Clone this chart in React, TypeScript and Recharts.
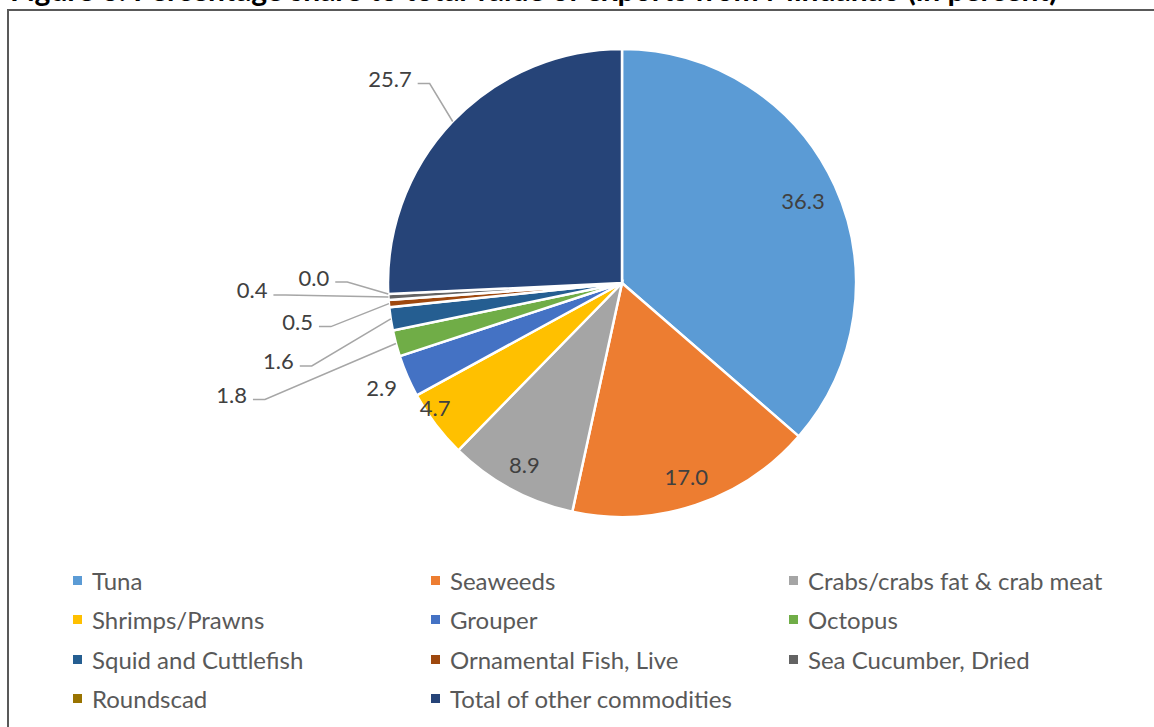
import { PieChart, Pie, Cell, Legend } from 'recharts';

const categories = [
  'Tuna',
  'Seaweeds',
  'Crabs/crabs fat & crab meat',
  'Shrimps/Prawns',
  'Grouper',
  'Octopus',
  'Squid and Cuttlefish',
  'Ornamental Fish, Live',
  'Sea Cucumber, Dried',
  'Roundscad',
  'Total of other commodities',
];
const shares = [36.3, 17.0, 8.9, 4.7, 2.9, 1.8, 1.6, 0.5, 0.4, 0.0, 25.7];
const colors = [
  '#5B9BD5', '#ED7D31', '#A5A5A5', '#FFC000', '#4472C4', '#70AD47',
  '#255E91', '#9E480E', '#636363', '#997300', '#264478',
];

const data = categories.map((name, i) => ({ name, value: shares[i] }));

// label placement: r = fraction of radius (da = angle nudge in degrees),
// dx/dy = elbow offset from the slice edge for labels with a leader line
const labelPlacement: any[] = [
  { r: 0.85 },
  { r: 0.87 },
  { r: 0.88 },
  { r: 0.96, da: -3.4 },
  { r: 1.12 },
  { dx: -131, dy: 56 },
  { dx: -79, dy: 47 },
  { dx: -58, dy: 23 },
  { dx: -103, dy: -2 },
  { dx: -41, dy: -12 },
  { dx: -23, dy: -38 },
];

const RAD = Math.PI / 180;
const FONT = 'Lato, "Open Sans", sans-serif';

const renderLabel = (props: any) => {
  const { cx, cy, midAngle, outerRadius, index, value } = props;
  const place = labelPlacement[index];
  const angle = midAngle + (place.da || 0);
  const cos = Math.cos(-angle * RAD);
  const sin = Math.sin(-angle * RAD);
  const text = Number(value).toFixed(1);
  if (place.r !== undefined) {
    const r = outerRadius * place.r;
    return (
      <text
        x={cx + r * cos}
        y={cy + r * sin}
        fill="#404040"
        fontSize={22}
        fontFamily={FONT}
        textAnchor="middle"
        dominantBaseline="central"
      >
        {text}
      </text>
    );
  }
  const ax = cx + outerRadius * cos;
  const ay = cy + outerRadius * sin;
  const ex = ax + place.dx;
  const ey = ay + place.dy;
  return (
    <g>
      <polyline
        points={`${ax},${ay} ${ex},${ey} ${ex - 12},${ey}`}
        fill="none"
        stroke="#A6A6A6"
        strokeWidth={1.5}
      />
      <text
        x={ex - 18}
        y={ey - 5}
        fill="#404040"
        fontSize={22}
        fontFamily={FONT}
        textAnchor="end"
        dominantBaseline="central"
      >
        {text}
      </text>
    </g>
  );
};

// legend keeps the data order (Recharts would sort it by name)
const LegendGrid = () => (
  <div
    style={{
      display: 'grid',
      gridTemplateColumns: '358px 358px 358px',
      paddingLeft: 73,
      fontFamily: FONT,
      fontSize: 24,
      color: '#595959',
    }}
  >
    {categories.map((name, i) => (
      <div key={name} style={{ display: 'flex', alignItems: 'center', height: 39.3, whiteSpace: 'nowrap' }}>
        <span style={{ width: 9, height: 9, background: colors[i], marginRight: 10, display: 'inline-block' }} />
        <span>{name}</span>
      </div>
    ))}
  </div>
);

export default function App() {
  return (
    <div style={{ position: 'absolute', left: 0, top: 0, width: 1154, height: 727, overflow: 'hidden', background: '#fff' }}>
      <div
        style={{
          position: 'absolute',
          left: 10,
          top: -26,
          fontFamily: FONT,
          fontWeight: 700,
          fontSize: 30,
          lineHeight: '30px',
          color: '#000',
          whiteSpace: 'nowrap',
        }}
      >
        Figure 6. Percentage share to total value of exports from Mindanao (in percent)
      </div>
      <div
        style={{
          position: 'absolute',
          left: 7,
          top: 9,
          width: 1160,
          height: 730,
          borderLeft: '2px solid #595959',
          borderTop: '2px solid #595959',
        }}
      />
      <div style={{ position: 'absolute', left: 0, top: 0 }}>
        <PieChart width={1154} height={727} margin={{ top: 0, right: 0, bottom: 0, left: 0 }}>
          <Pie
            data={data}
            dataKey="value"
            nameKey="name"
            cx={622}
            cy={283}
            outerRadius={234}
            startAngle={90}
            endAngle={-270}
            stroke="#fff"
            strokeWidth={2.5}
            label={renderLabel}
            labelLine={false}
            isAnimationActive={false}
          >
            {data.map((_, i) => (
              <Cell key={`cell-${i}`} fill={colors[i]} />
            ))}
          </Pie>
          <Legend
            content={<LegendGrid />}
            wrapperStyle={{ position: 'absolute', left: 0, top: 561, width: 1154 }}
          />
        </PieChart>
      </div>
    </div>
  );
}
